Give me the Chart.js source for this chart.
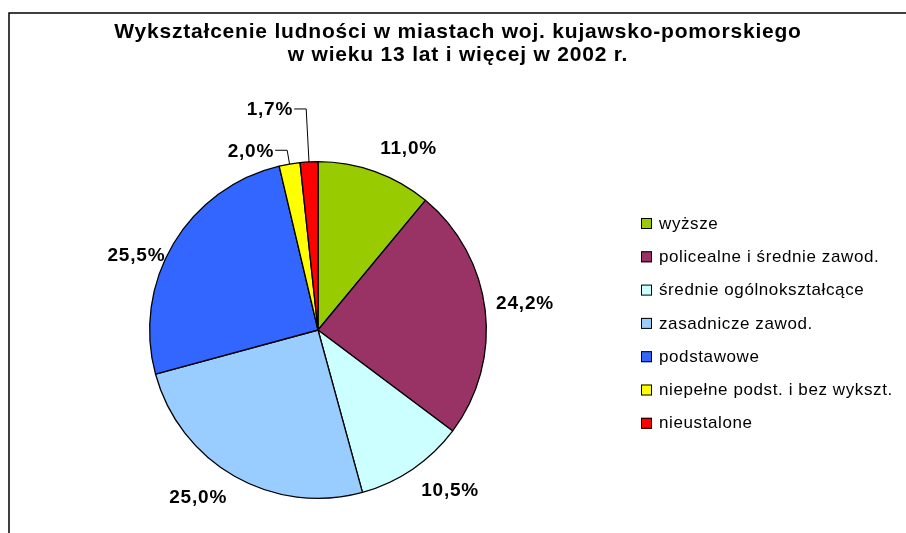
<!DOCTYPE html>
<html>
<head>
<meta charset="UTF-8">
<title>Wyksztalcenie ludnosci</title>
<script src="https://cdn.jsdelivr.net/npm/chart.js"></script>
<style>
  body { margin: 0; background: #fff; }
  #wrap { width: 906px; height: 533px; }
</style>
</head>
<body>
<div id="wrap"><canvas id="pie" width="906" height="533"></canvas></div>
<script>
// data
const categories = [
  "wyższe",
  "policealne i średnie zawod.",
  "średnie ogólnokształcące",
  "zasadnicze zawod.",
  "podstawowe",
  "niepełne podst. i bez wykszt.",
  "nieustalone"
];
const shares = [11.0, 24.2, 10.5, 25.0, 25.5, 2.0, 1.7];
const sliceColors = ["#99CC00", "#993366", "#CCFFFF", "#99CCFF", "#3366FF", "#FFFF00", "#FF0000"];
const titleLines = ["Wykształcenie ludności w miastach woj. kujawsko-pomorskiego", "w wieku 13 lat i więcej w 2002 r."];

const FONT = "'Liberation Sans', Arial, sans-serif";

// frame + title
const framePlugin = {
  id: 'frame',
  beforeDraw(chart) {
    const ctx = chart.ctx;
    ctx.save();
    ctx.fillStyle = '#fff';
    ctx.fillRect(0, 0, chart.width, chart.height);
    ctx.strokeStyle = '#000';
    ctx.lineWidth = 1.5;
    ctx.beginPath();
    ctx.moveTo(9, chart.height);
    ctx.lineTo(9, 13);
    ctx.lineTo(chart.width, 13);
    ctx.stroke();

    ctx.fillStyle = '#000';
    ctx.font = 'bold 21px ' + FONT;
    ctx.letterSpacing = '0.8px';
    ctx.textAlign = 'center';
    ctx.textBaseline = 'alphabetic';
    ctx.fillText(titleLines[0], 458, 38);
    ctx.fillText(titleLines[1], 458, 61);
    ctx.restore();
  }
};

// percent labels, leader lines for the thin slices
const leaderLen = { 5: 14, 6: 53 };
const labelNudge = { 4: [5, 28], 1: [-4, 4] };
const labelPlugin = {
  id: 'pctLabels',
  afterDatasetsDraw(chart) {
    const ctx = chart.ctx;
    const arcs = chart.getDatasetMeta(0).data;
    ctx.save();
    ctx.font = 'bold 19px ' + FONT;
    ctx.letterSpacing = '0.8px';
    ctx.fillStyle = '#000';
    ctx.textBaseline = 'middle';
    arcs.forEach((arc, i) => {
      const p = arc.getProps(['x', 'y', 'startAngle', 'endAngle', 'outerRadius'], true);
      const a = (p.startAngle + p.endAngle) / 2;
      const ux = Math.cos(a), uy = Math.sin(a);
      const txt = shares[i].toFixed(1).replace('.', ',') + '%';
      const w = ctx.measureText(txt).width;
      if (leaderLen[i] !== undefined) {
        const ex = p.x + p.outerRadius * ux, ey = p.y + p.outerRadius * uy;
        const bx = p.x + (p.outerRadius + leaderLen[i]) * ux;
        const by = p.y + (p.outerRadius + leaderLen[i]) * uy;
        ctx.strokeStyle = '#000';
        ctx.lineWidth = 1;
        ctx.beginPath();
        ctx.moveTo(ex, ey);
        ctx.lineTo(bx, by);
        ctx.lineTo(bx - 12, by);
        ctx.stroke();
        ctx.textAlign = 'right';
        ctx.fillText(txt, bx - 13, by + 1);
      } else {
        const r = p.outerRadius + 15;
        const nud = labelNudge[i] || [0, 0];
        const ax = p.x + r * ux, ay = p.y + r * uy;
        ctx.textAlign = 'center';
        ctx.fillText(txt, ax + Math.sign(ux) * w / 2 + nud[0], ay + Math.sign(uy) * 9 + nud[1]);
      }
    });
    ctx.restore();
  }
};

// legend on the right
const legendPlugin = {
  id: 'sideLegend',
  afterDraw(chart) {
    const ctx = chart.ctx;
    ctx.save();
    ctx.font = '17px ' + FONT;
    ctx.letterSpacing = '0.6px';
    ctx.textAlign = 'left';
    ctx.textBaseline = 'middle';
    categories.forEach((c, i) => {
      const y = 223 + i * 33.3;
      ctx.fillStyle = sliceColors[i];
      ctx.fillRect(641, y - 5, 11, 11);
      ctx.strokeStyle = '#000';
      ctx.lineWidth = 1;
      ctx.strokeRect(641.5, y - 4.5, 10, 10);
      ctx.fillStyle = '#000';
      ctx.fillText(c, 659, y + 1);
    });
    ctx.restore();
  }
};

new Chart(document.getElementById('pie'), {
  type: 'pie',
  data: {
    labels: categories,
    datasets: [{
      data: shares,
      backgroundColor: sliceColors,
      borderColor: '#000',
      borderWidth: 1.3
    }]
  },
  options: {
    responsive: false,
    animation: false,
    layout: { padding: { left: 149, right: 419, top: 161, bottom: 34 } },
    plugins: {
      legend: { display: false },
      title: { display: false },
      tooltip: { enabled: false }
    }
  },
  plugins: [framePlugin, labelPlugin, legendPlugin]
});
</script>
</body>
</html>
